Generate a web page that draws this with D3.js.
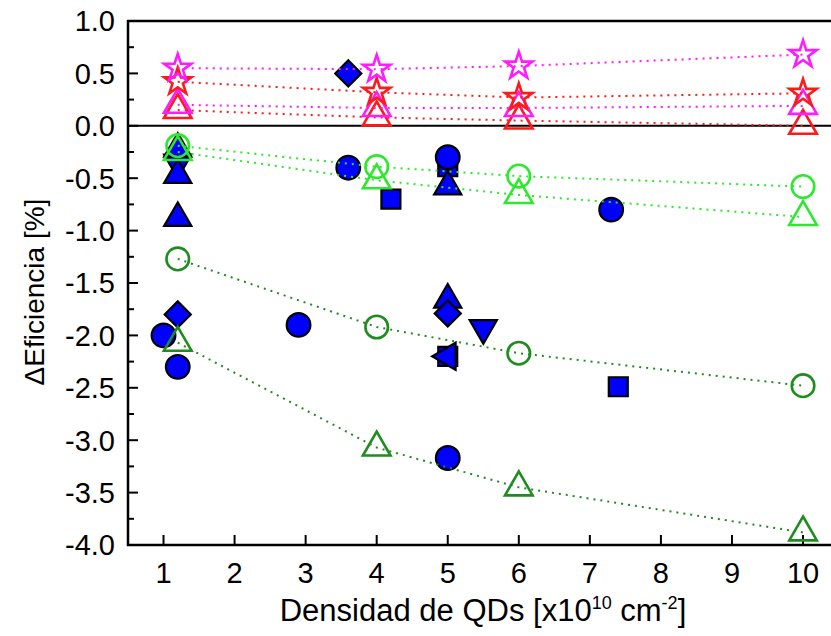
<!DOCTYPE html>
<html lang="es">
<head>
  <meta charset="utf-8">
  <title>Delta Eficiencia vs Densidad de QDs</title>
  <script src="https://d3js.org/d3.v7.min.js"></script>
  <style>
    body { margin: 0; background: white; }
    svg text { font-family: "Liberation Sans", Arial, sans-serif; fill: black; }
  </style>
</head>
<body>
<div id="chart"></div>
<script>
// ============= datos =========
// series unidas con linea punteada (mismas densidades)
var densLinea = [1.2, 4, 6, 10];
var estrellaMagenta = [0.55, 0.54, 0.57, 0.68];
var estrellaRoja = [0.42, 0.32, 0.27, 0.31];
var trianguloRojo = [0.15, 0.08, 0.05, 0.0];
var trianguloMagenta = [0.20, 0.17, 0.17, 0.19];
var circuloVerdeClaro = [-0.19, -0.39, -0.48, -0.58];
var trianguloVerdeClaro = [-0.25, -0.52, -0.66, -0.87];
var circuloVerdeOscuro = [-1.27, -1.92, -2.17, -2.48];
var trianguloVerdeOscuro = [-2.07, -3.07, -3.45, -3.88];

// puntos azules sueltos
var circAzulX = [1.0, 1.2, 2.9, 3.6, 5, 5, 7.3];
var circAzulY = [-2.0, -2.3, -1.9, -0.4, -0.3, -3.17, -0.8];
var cuadAzulX = [4.2, 5, 5, 7.4];
var cuadAzulY = [-0.7, -0.39, -2.2, -2.49];
var triAzulX = [1.2, 1.2, 1.2, 5, 5];
var triAzulY = [-0.22, -0.47, -0.88, -0.58, -1.66];
var triAbajoAzulX = [1.2, 5.5];
var triAbajoAzulY = [-0.35, -1.93];
var triIzqAzulX = [5];
var triIzqAzulY = [-2.2];
var rombAzulX = [1.2, 3.6, 5];
var rombAzulY = [-1.8, 0.5, -1.79];

var xTicks = [1, 2, 3, 4, 5, 6, 7, 8, 9, 10];
var yTicks = [1.0, 0.5, 0.0, -0.5, -1.0, -1.5, -2.0, -2.5, -3.0, -3.5, -4.0];

// ============= svg =========
var width = 831;
var height = 636;
var svg = d3.select("#chart").append("svg")
  .attr("width", width)
  .attr("height", height);

var x = d3.scaleLinear().domain([0.5, 10.45]).range([128, 835]);
var y = d3.scaleLinear().domain([-4, 1]).range([545, 21]);

// ticks hacia adentro
var yMinor = d3.range(-3.75, 1, 0.5);
svg.selectAll("line.ymaj").data(yTicks).enter().append("line")
  .attr("x1", x(0.5)).attr("x2", x(0.5) + 10)
  .attr("y1", function(d) { return y(d); })
  .attr("y2", function(d) { return y(d); })
  .attr("stroke", "black").attr("stroke-width", 2);
svg.selectAll("line.ymin").data(yMinor).enter().append("line")
  .attr("x1", x(0.5)).attr("x2", x(0.5) + 6)
  .attr("y1", function(d) { return y(d); })
  .attr("y2", function(d) { return y(d); })
  .attr("stroke", "black").attr("stroke-width", 2);
svg.selectAll("line.xmaj").data(xTicks).enter().append("line")
  .attr("x1", function(d) { return x(d); })
  .attr("x2", function(d) { return x(d); })
  .attr("y1", y(-4)).attr("y2", y(-4) - 10)
  .attr("stroke", "black").attr("stroke-width", 2);

// marco (el borde derecho queda fuera de la imagen)
svg.append("path")
  .attr("d", "M" + x(10.45) + "," + y(1) + "H" + x(0.5) + "V" + y(-4) + "H" + x(10.45))
  .attr("fill", "none").attr("stroke", "black").attr("stroke-width", 2.5);

// linea en cero
svg.append("line")
  .attr("x1", x(0.5)).attr("x2", x(10.45))
  .attr("y1", y(0)).attr("y2", y(0))
  .attr("stroke", "black").attr("stroke-width", 2);

// etiquetas
svg.selectAll("text.ytick").data(yTicks).enter().append("text")
  .attr("x", 115)
  .attr("y", function(d) { return y(d); })
  .attr("dy", "0.36em")
  .attr("text-anchor", "end")
  .style("font-size", "29px")
  .text(function(d) { return d3.format(".1f")(d).replace("\u2212", "-"); });

svg.selectAll("text.xtick").data(xTicks).enter().append("text")
  .attr("x", function(d) { return x(d); })
  .attr("y", 583)
  .attr("text-anchor", "middle")
  .style("font-size", "29px")
  .text(function(d) { return d; });

var xlab = svg.append("text")
  .attr("x", 483).attr("y", 621)
  .attr("text-anchor", "middle")
  .style("font-size", "31px");
xlab.append("tspan").text("Densidad de QDs [x10");
xlab.append("tspan").attr("dy", -12).style("font-size", "18px").text("10");
xlab.append("tspan").attr("dy", 12).text(" cm");
xlab.append("tspan").attr("dy", -12).style("font-size", "18px").text("-2");
xlab.append("tspan").attr("dy", 12).text("]");

svg.append("text")
  .attr("transform", "translate(44,292) rotate(-90)")
  .attr("text-anchor", "middle")
  .style("font-size", "28px")
  .text("\u0394Eficiencia [%]");

// ============= marcadores azules =========
function azul(xs, ys, tipo, tam, rot) {
  var pts = xs.map(function(d, i) { return [d, ys[i]]; });
  svg.selectAll(null).data(pts).enter().append("path")
    .attr("d", d3.symbol().type(tipo).size(tam))
    .attr("transform", function(d) {
      return "translate(" + x(d[0]) + "," + y(d[1]) + ") rotate(" + rot + ")";
    })
    .attr("fill", "#0000ff")
    .attr("stroke", "black")
    .attr("stroke-width", 2.2);
}
azul(cuadAzulX, cuadAzulY, d3.symbolSquare, 360, 0);
azul(circAzulX, circAzulY, d3.symbolCircle, 440, 0);
azul(triAbajoAzulX, triAbajoAzulY, d3.symbolTriangle, 320, 180);
azul(triAzulX, triAzulY, d3.symbolTriangle, 320, 0);
azul(triIzqAzulX, triIzqAzulY, d3.symbolTriangle, 320, -90);
azul(rombAzulX, rombAzulY, d3.symbolSquare, 340, 45);

// ============= series con linea punteada =========
function serie(vals, color, tipo, tam) {
  var pts = densLinea.map(function(d, i) { return [d, vals[i]]; });
  svg.append("path")
    .datum(pts)
    .attr("d", d3.line().x(function(d) { return x(d[0]); }).y(function(d) { return y(d[1]); }))
    .attr("fill", "none")
    .attr("stroke", color)
    .attr("stroke-width", 2)
    .attr("stroke-dasharray", "2,5");
  svg.selectAll(null).data(pts).enter().append("path")
    .attr("d", d3.symbol().type(tipo).size(tam))
    .attr("transform", function(d) { return "translate(" + x(d[0]) + "," + y(d[1]) + ")"; })
    .attr("fill", "none")
    .attr("stroke", color)
    .attr("stroke-width", 2.6);
}
serie(trianguloVerdeOscuro, "#1f8c1f", d3.symbolTriangle, 330);
serie(circuloVerdeOscuro, "#1f8c1f", d3.symbolCircle, 400);
serie(trianguloVerdeClaro, "#2ee82e", d3.symbolTriangle, 330);
serie(circuloVerdeClaro, "#2ee82e", d3.symbolCircle, 400);
serie(trianguloRojo, "#ff1a1a", d3.symbolTriangle, 330);
serie(trianguloMagenta, "#ff1aff", d3.symbolTriangle, 330);
serie(estrellaRoja, "#ff1a1a", d3.symbolStar, 230);
serie(estrellaMagenta, "#ff1aff", d3.symbolStar, 230);
</script>
</body>
</html>
